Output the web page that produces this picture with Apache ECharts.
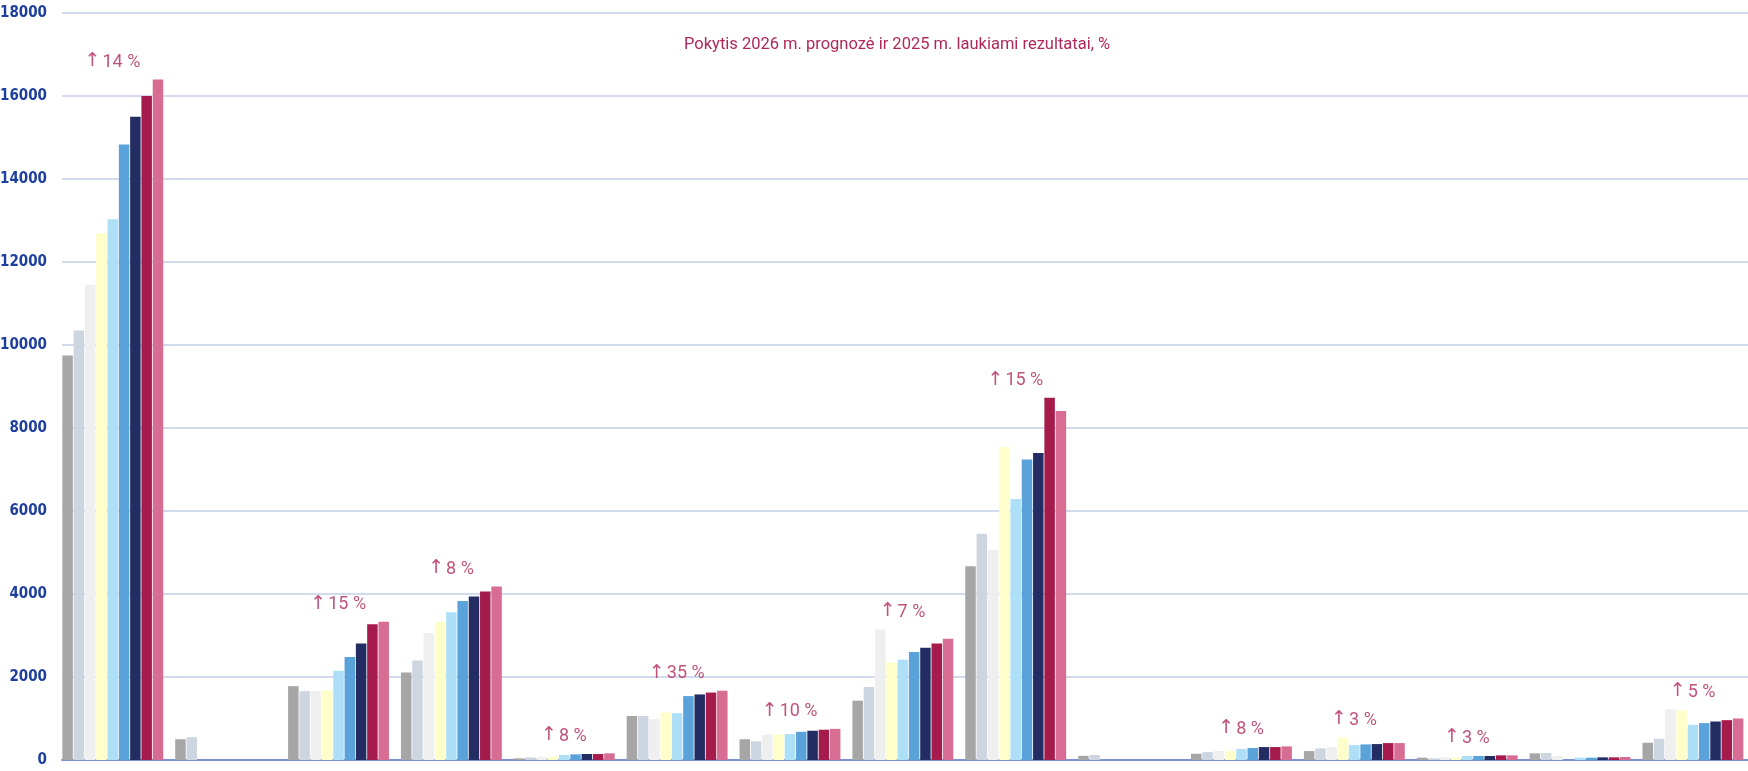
<!DOCTYPE html>
<html>
<head>
<meta charset="utf-8">
<script src="https://cdn.jsdelivr.net/npm/echarts@6/dist/echarts.min.js"></script>
<style>
  html, body { margin: 0; padding: 0; background: #ffffff; }
  #chart { width: 1748px; height: 771px; }
</style>
</head>
<body>
<div id="chart"></div>
<script>
// ---- data ----
const categories = ['1', '2', '3', '4', '5', '6', '7', '8', '9', '10', '11', '12', '13', '14', '15'];
const yTicks = [0, 2000, 4000, 6000, 8000, 10000, 12000, 14000, 16000, 18000];
const changeLabels = ['↑14 %', '', '↑15 %', '↑8 %', '↑8 %', '↑35 %', '↑10 %', '↑7 %', '↑15 %', '', '↑8 %', '↑3 %', '↑3 %', '', '↑5 %'];
const chartTitle = 'Pokytis 2026 m. prognozė ir 2025 m. laukiami rezultatai, %';

const s1 = [9750, 500, 1780, 2110, 40, 1060, 500, 1430, 4670, 100, 150, 216, 56, 160, 416];
const s2 = [10350, 550, 1660, 2400, 64, 1060, 450, 1760, 5450, 120, 190, 280, 40, 168, 512];
const s3 = [11450, 0, 1660, 3060, 72, 985, 610, 3145, 5060, 0, 215, 312, 64, 96, 1224];
const s4 = [12690, 0, 1680, 3330, 80, 1145, 615, 2350, 7540, 0, 215, 544, 64, 0, 1200];
const s5 = [13030, 0, 2150, 3560, 120, 1130, 625, 2415, 6290, 0, 264, 360, 96, 56, 848];
const s6 = [14830, 0, 2480, 3830, 136, 1540, 680, 2600, 7240, 0, 288, 376, 96, 56, 888];
const s7 = [15500, 0, 2810, 3940, 144, 1580, 705, 2705, 7400, 0, 312, 384, 96, 64, 928];
const s8 = [16000, 0, 3270, 4060, 144, 1625, 730, 2810, 8730, 0, 312, 408, 112, 64, 960];
const s9 = [16400, 0, 3330, 4180, 160, 1670, 750, 2920, 8410, 0, 328, 408, 112, 72, 1000];

// ---- styling ----
const seriesValues = [s1, s2, s3, s4, s5, s6, s7, s8, s9];
const colors = ['#a6a6a6', '#cdd5e1', '#efefef', '#fefecb', '#addff6', '#5aa2da', '#232d63', '#a51b4b', '#d76d92'];
const accent = '#b0285a';

const chart = echarts.init(document.getElementById('chart'), null, { renderer: 'canvas' });

const barSeries = seriesValues.map((vals, i) => ({
  type: 'bar',
  name: 'S' + (i + 1),
  data: vals,
  barWidth: 10.5,
  barGap: '7.6%',
  itemStyle: { color: colors[i] },
  silent: true
}));
// empty slot series (keeps the gap after each group of nine bars)
barSeries.push({
  type: 'bar',
  name: 'gap',
  data: categories.map(() => 0),
  barWidth: 10.5,
  barGap: '7.6%',
  itemStyle: { color: 'rgba(0,0,0,0)' },
  silent: true
});

const labelPoints = [];
categories.forEach((c, ci) => {
  const txt = changeLabels[ci];
  if (txt === '') return;
  const mx = Math.max(...seriesValues.map(v => v[ci]));
  const arrow = txt.charAt(0);
  const rest = txt.slice(1);
  labelPoints.push({ value: [ci, mx], label: { formatter: '{a|' + arrow + '}{b|' + rest + '}' } });
});

const option = {
  animation: false,
  backgroundColor: '#ffffff',
  title: {
    text: chartTitle,
    left: 679,
    top: 31,
    textStyle: { color: accent, fontSize: 16.5, fontWeight: 'normal', fontFamily: 'Roboto, sans-serif' }
  },
  grid: { left: 62, top: 13, width: 1693, bottom: 11, containLabel: false, outerBoundsMode: 'none' },
  xAxis: {
    type: 'category',
    data: categories,
    boundaryGap: true,
    axisLine: { show: true, lineStyle: { color: '#7b93d3', width: 2 } },
    axisTick: { show: false },
    axisLabel: { show: false },
    splitLine: { show: false }
  },
  yAxis: {
    type: 'value',
    min: yTicks[0],
    max: yTicks[yTicks.length - 1],
    interval: yTicks[1] - yTicks[0],
    axisLine: { show: false },
    axisTick: { show: false },
    axisLabel: {
      color: '#1e3f9e',
      fontWeight: 'bold',
      fontSize: 15,
      fontFamily: "'Liberation Sans Narrow', 'DejaVu Sans Condensed', sans-serif",
      margin: 15,
      formatter: v => String(v)
    },
    splitLine: { lineStyle: { color: '#c3cfe8', width: 1.5 } }
  },
  series: barSeries.concat([{
    type: 'scatter',
    data: labelPoints,
    symbolSize: 1,
    itemStyle: { color: 'rgba(0,0,0,0)' },
    silent: true,
    z: 5,
    label: {
      show: true,
      position: 'inside',
      offset: [-6, -17],
      color: accent,
      fontSize: 18,
      fontFamily: 'Roboto, sans-serif',
      rich: {
        a: { color: accent, fontSize: 19, fontFamily: "'DejaVu Sans', sans-serif", padding: [0, 2, 2, 0] },
        b: { color: accent, fontSize: 18, fontFamily: 'Roboto, sans-serif' }
      }
    }
  }])
};

chart.setOption(option);
</script>
</body>
</html>
